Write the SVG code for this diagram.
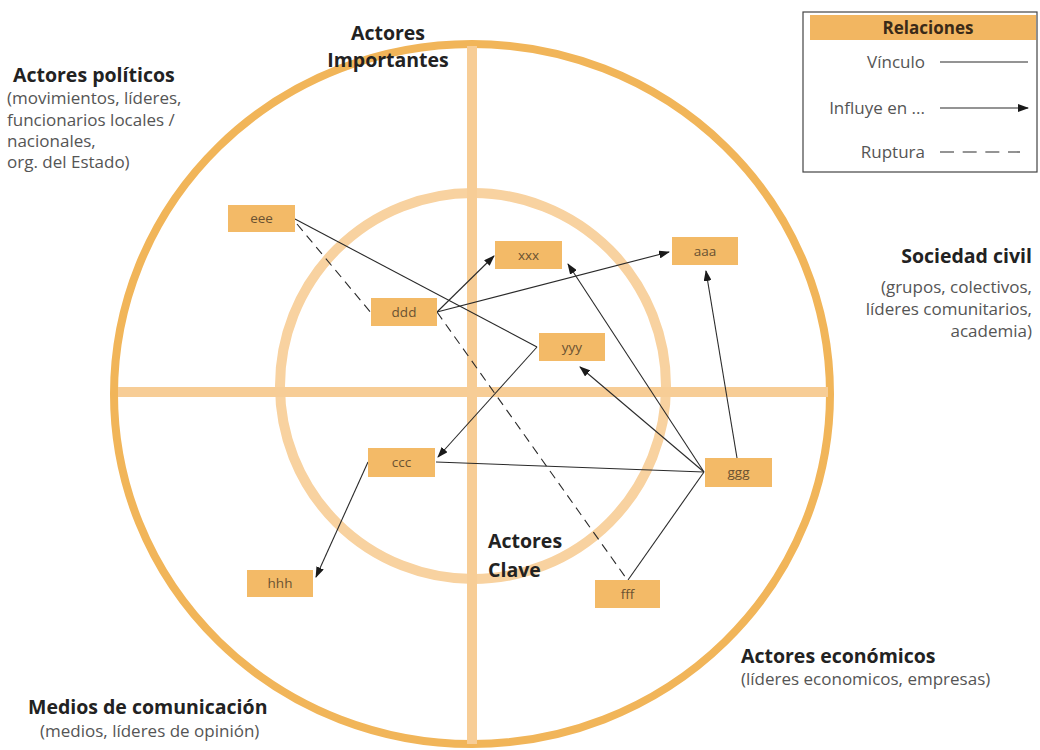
<svg xmlns="http://www.w3.org/2000/svg" width="1040" height="750" viewBox="0 0 1040 750">
<style>
.bg{fill:#ffffff}
.outer{fill:none;stroke:#F1B559;stroke-width:8}
.inner{fill:none;stroke:#F8D2A0;stroke-width:10}
.axis{stroke:#F7CD96;stroke-width:10}
.node rect{fill:#F3BA67}
.node text{font-family:"Open Sans","Liberation Sans",sans-serif;font-size:13.5px;fill:#6a5232;text-anchor:middle}
.conn{stroke:#2a2a2a;stroke-width:1.1;fill:none}
.dash{stroke-dasharray:9 6}
.title{font-family:"Open Sans","Liberation Sans",sans-serif;font-size:19.5px;font-weight:bold;fill:#222}
.sub{font-family:"Open Sans","Liberation Sans",sans-serif;font-size:17px;fill:#555}
.leg{font-family:"Open Sans","Liberation Sans",sans-serif;font-size:17px;fill:#555;text-anchor:end}
</style>
<defs>
<marker id="arr" markerUnits="userSpaceOnUse" markerWidth="11" markerHeight="8" refX="10" refY="4" orient="auto">
<path d="M0,0 L11,4 L0,8 z" fill="#1a1a1a"/>
</marker>
</defs>
<rect class="bg" x="0" y="0" width="1040" height="750"/>
<g id="background">
<ellipse class="outer" cx="472" cy="394" rx="358" ry="350"/>
<ellipse class="inner" cx="473" cy="386" rx="193" ry="193"/>
<line class="axis" x1="118" y1="392" x2="828" y2="392"/>
<line class="axis" x1="472" y1="46" x2="472" y2="744"/>
</g>
<g id="labels">
<text class="title" x="13" y="82">Actores políticos</text>
<text class="sub" x="7" y="104">(movimientos, líderes,</text>
<text class="sub" x="7" y="126">funcionarios locales /</text>
<text class="sub" x="7" y="147">nacionales,</text>
<text class="sub" x="7" y="168">org. del Estado)</text>
<text class="title" x="388" y="40" text-anchor="middle">Actores</text>
<text class="title" x="388" y="67" text-anchor="middle">Importantes</text>
<text class="title" x="1032" y="263" text-anchor="end">Sociedad civil</text>
<text class="sub" x="1032" y="293" text-anchor="end">(grupos, colectivos,</text>
<text class="sub" x="1032" y="315" text-anchor="end">líderes comunitarios,</text>
<text class="sub" x="1032" y="337" text-anchor="end">academia)</text>
<text class="title" x="741" y="663">Actores económicos</text>
<text class="sub" x="741" y="685">(líderes economicos, empresas)</text>
<text class="title" x="28" y="714">Medios de comunicación</text>
<text class="sub" x="40" y="737">(medios, líderes de opinión)</text>
<text class="title" x="488" y="548">Actores</text>
<text class="title" x="488" y="577">Clave</text>
</g>
<g id="connectors">
<path class="conn" d="M295,219 L537,347"/>
<path class="conn" d="M537,347 L438,457" marker-end="url(#arr)"/>
<path class="conn dash" d="M297,224 L372,314"/>
<path class="conn dash" d="M437,312 L626,578"/>
<path class="conn" d="M437,312 L494,256" marker-end="url(#arr)"/>
<path class="conn" d="M437,312 L669,252" marker-end="url(#arr)"/>
<path class="conn" d="M704,472 L568,264" marker-end="url(#arr)"/>
<path class="conn" d="M704,472 L580,367" marker-end="url(#arr)"/>
<path class="conn" d="M737,458 L706,271" marker-end="url(#arr)"/>
<path class="conn" d="M704,472 L436,462"/>
<path class="conn" d="M704,472 L628,580"/>
<path class="conn" d="M368,462 L316,577" marker-end="url(#arr)"/>
</g>
<g id="node-eee" class="node"><rect x="228" y="205" width="67" height="27"/><text x="261.5" y="223">eee</text></g>
<g id="node-ddd" class="node"><rect x="371" y="298" width="66" height="28"/><text x="404" y="317">ddd</text></g>
<g id="node-xxx" class="node"><rect x="495" y="241" width="67" height="28"/><text x="528.5" y="260">xxx</text></g>
<g id="node-aaa" class="node"><rect x="672" y="237" width="66" height="28"/><text x="705" y="256">aaa</text></g>
<g id="node-yyy" class="node"><rect x="539" y="333" width="66" height="28"/><text x="572" y="352">yyy</text></g>
<g id="node-ggg" class="node"><rect x="705" y="458" width="67" height="29"/><text x="738.5" y="477">ggg</text></g>
<g id="node-ccc" class="node"><rect x="368" y="448" width="67" height="29"/><text x="401.5" y="467">ccc</text></g>
<g id="node-fff" class="node"><rect x="595" y="580" width="65" height="28"/><text x="627.5" y="599">fff</text></g>
<g id="node-hhh" class="node"><rect x="247" y="570" width="66" height="27"/><text x="280" y="588">hhh</text></g>
<g id="legend">
<rect x="803" y="12" width="234" height="160" fill="#fff" stroke="#444" stroke-width="1.2"/>
<rect x="810" y="15" width="226" height="25" fill="#F2B661"/>
<text x="928" y="34" font-family="'Open Sans','Liberation Sans',sans-serif" font-size="17" font-weight="bold" fill="#3a2a18" text-anchor="middle">Relaciones</text>
<text class="leg" x="925" y="68">Vínculo</text>
<line class="conn" x1="940" y1="62" x2="1028" y2="62"/>
<text class="leg" x="925" y="114">Influye en ...</text>
<line class="conn" x1="940" y1="108" x2="1028" y2="108" marker-end="url(#arr)"/>
<text class="leg" x="925" y="158">Ruptura</text>
<line class="conn" x1="940" y1="152" x2="1020" y2="152" stroke-dasharray="14 8.67"/>
</g>
</svg>
